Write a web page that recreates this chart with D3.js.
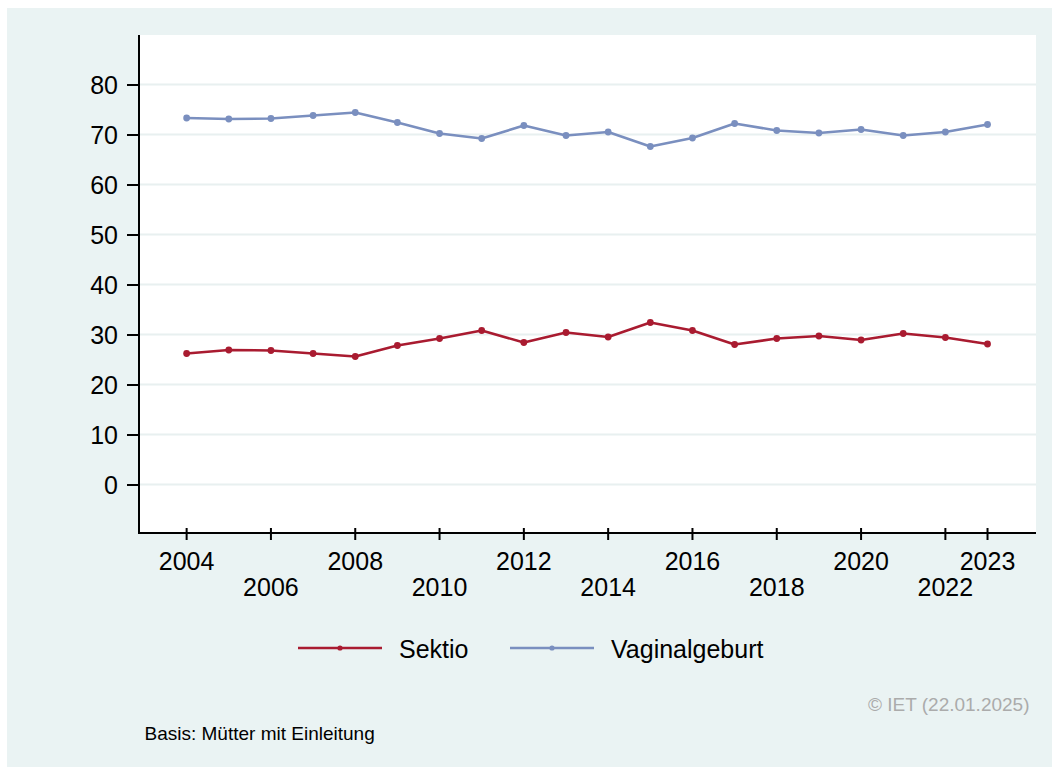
<!DOCTYPE html>
<html>
<head>
<meta charset="utf-8">
<script src="https://cdn.jsdelivr.net/npm/d3@7"></script>
<style>
  html, body { margin: 0; padding: 0; background: #ffffff; }
  svg { display: block; font-family: "Liberation Sans", Arial, sans-serif; }
</style>
</head>
<body>
<svg id="chart" width="1052" height="767"></svg>
<script>
const years = [2004,2005,2006,2007,2008,2009,2010,2011,2012,2013,2014,2015,2016,2017,2018,2019,2020,2021,2022,2023];
const sektio = [26.2,26.9,26.8,26.2,25.6,27.8,29.2,30.8,28.4,30.4,29.5,32.4,30.8,28.0,29.2,29.7,28.9,30.2,29.4,28.1];
const vaginal = [73.3,73.1,73.2,73.8,74.4,72.4,70.2,69.2,71.8,69.8,70.5,67.6,69.3,72.2,70.8,70.3,71.0,69.8,70.5,72.0];
const yTicks = [0,10,20,30,40,50,60,70,80];
const xTicksRow1 = [2004,2008,2012,2016,2020,2023];
const xTicksRow2 = [2006,2010,2014,2018,2022];
const seriesNames = ["Sektio", "Vaginalgeburt"];
const footnote = "Basis: Mütter mit Einleitung";
const copyright = "© IET (22.01.2025)";

const colors = ["#a91b30", "#7a8fbf"];
const svg = d3.select("#chart");

// outer background
svg.append("rect").attr("x", 7).attr("y", 8).attr("width", 1045).attr("height", 759).attr("fill", "#eaf3f3");

const L = 139, R = 1036, T = 35, B = 533;
svg.append("rect").attr("x", L).attr("y", T).attr("width", R - L).attr("height", B - T).attr("fill", "#ffffff");

const x = d3.scaleLinear().domain([2002.87, 2024.15]).range([L, R]);
const y = d3.scaleLinear().domain([-9.7, 89.9]).range([B, T]);

// gridlines
svg.append("g").selectAll("line").data(yTicks).join("line")
  .attr("x1", L).attr("x2", R)
  .attr("y1", d => y(d)).attr("y2", d => y(d))
  .attr("stroke", "#e8f0f0").attr("stroke-width", 2);

// y axis
const yAxis = svg.append("g").attr("transform", `translate(${L},0)`)
  .call(d3.axisLeft(y).tickValues(yTicks).tickSize(12).tickPadding(9).tickFormat(d3.format("d")));
yAxis.select(".domain").remove();
yAxis.selectAll(".tick line").attr("stroke", "#000").attr("stroke-width", 2);
yAxis.selectAll(".tick text").attr("font-size", "25px").attr("fill", "#000")
  .attr("font-family", "Liberation Sans, Arial, sans-serif").attr("dy", "0.36em");

// x axis ticks
const allXTicks = xTicksRow1.concat(xTicksRow2);
svg.append("g").selectAll("line").data(allXTicks).join("line")
  .attr("x1", d => x(d)).attr("x2", d => x(d))
  .attr("y1", B - 5).attr("y2", B + 7)
  .attr("stroke", "#000").attr("stroke-width", 2);
svg.append("g").selectAll("text").data(xTicksRow1).join("text")
  .attr("x", d => x(d)).attr("y", 570).attr("text-anchor", "middle")
  .attr("font-size", "25px").text(d => d);
svg.append("g").selectAll("text").data(xTicksRow2).join("text")
  .attr("x", d => x(d)).attr("y", 596).attr("text-anchor", "middle")
  .attr("font-size", "25px").text(d => d);

// axis lines
svg.append("line").attr("x1", L).attr("x2", L).attr("y1", T).attr("y2", B + 1)
  .attr("stroke", "#000").attr("stroke-width", 2);
svg.append("line").attr("x1", L - 1).attr("x2", R).attr("y1", B).attr("y2", B)
  .attr("stroke", "#000").attr("stroke-width", 2);

// series
const series = [sektio, vaginal];
const line = d3.line().x((d, i) => x(years[i])).y(d => y(d));
series.forEach((vals, k) => {
  svg.append("path").datum(vals).attr("d", line)
    .attr("fill", "none").attr("stroke", colors[k]).attr("stroke-width", 2.6)
    .attr("stroke-linejoin", "round");
  svg.append("g").selectAll("circle").data(vals).join("circle")
    .attr("cx", (d, i) => x(years[i])).attr("cy", d => y(d)).attr("r", 3.4)
    .attr("fill", colors[k]);
});

// legend
const legendX = [298, 510];
const legendY = 648;
seriesNames.forEach((name, k) => {
  const g = svg.append("g");
  g.append("line").attr("x1", legendX[k]).attr("x2", legendX[k] + 84)
    .attr("y1", legendY).attr("y2", legendY)
    .attr("stroke", colors[k]).attr("stroke-width", 2.6);
  g.append("circle").attr("cx", legendX[k] + 42).attr("cy", legendY).attr("r", 2.6).attr("fill", colors[k]);
  g.append("text").attr("x", legendX[k] + 101).attr("y", 657.5)
    .attr("font-size", "25px").attr("fill", "#000").text(name);
});

// footer texts
svg.append("text").attr("x", 1029.5).attr("y", 710.5).attr("text-anchor", "end")
  .attr("font-size", "19px").attr("fill", "#ababab").text(copyright);
svg.append("text").attr("x", 144.5).attr("y", 740).attr("font-size", "19px")
  .attr("fill", "#000").text(footnote);
</script>
</body>
</html>
